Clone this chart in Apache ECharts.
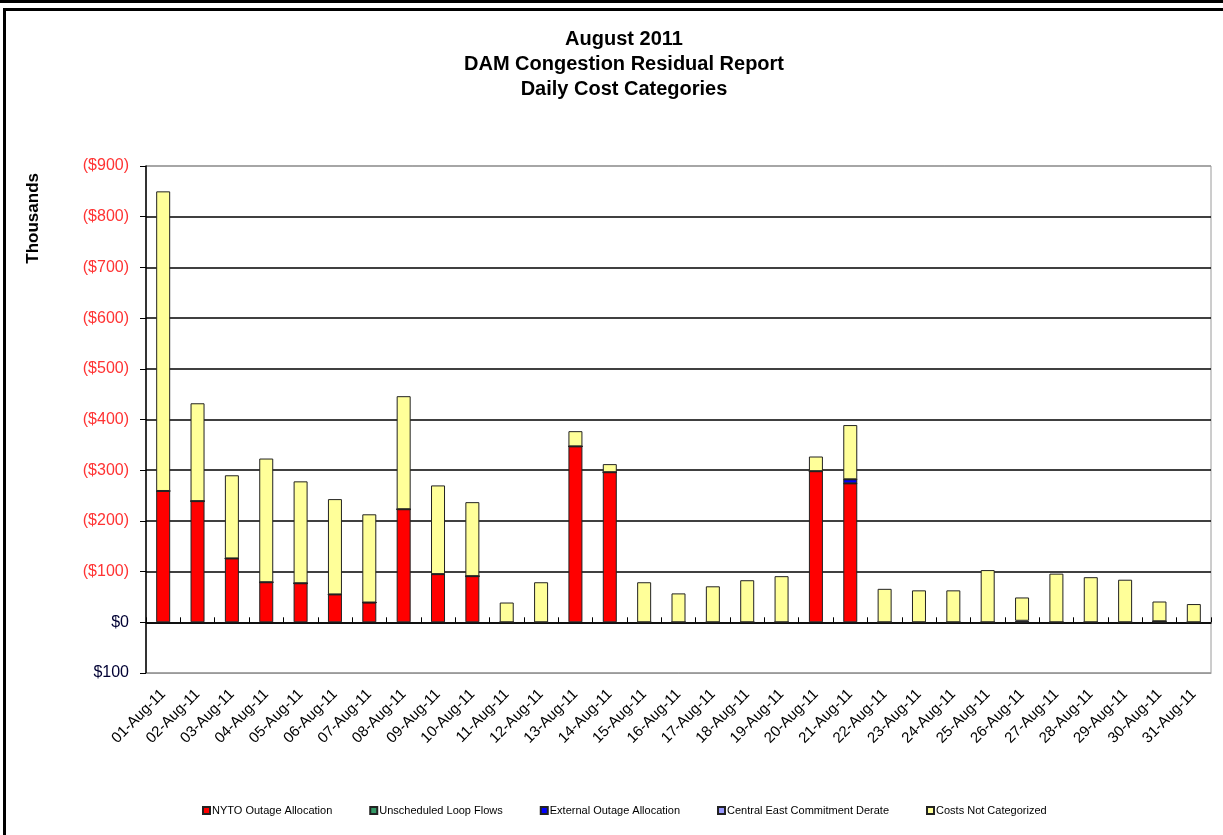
<!DOCTYPE html>
<html>
<head>
<meta charset="utf-8">
<title>DAM Congestion Residual Report</title>
<script src="https://cdn.jsdelivr.net/npm/echarts@6/dist/echarts.min.js"></script>
<style>
  html, body { margin: 0; padding: 0; background: #fff; }
  #topBar { position: absolute; left: 0; top: 0; width: 1223px; height: 3px; background: #000; }
  #frame { position: absolute; left: 3px; top: 8px; width: 1230px; height: 840px;
           border-left: 3px solid #000; border-top: 3px solid #000; }
  #chart { position: absolute; left: 0; top: 0; width: 1223px; height: 835px; }
</style>
</head>
<body>
<div id="topBar"></div>
<div id="frame"></div>
<div id="chart"></div>
<script>
// days of August 2011
const days = [
  '01-Aug-11', '02-Aug-11', '03-Aug-11', '04-Aug-11', '05-Aug-11', '06-Aug-11', '07-Aug-11',
  '08-Aug-11', '09-Aug-11', '10-Aug-11', '11-Aug-11', '12-Aug-11', '13-Aug-11', '14-Aug-11',
  '15-Aug-11', '16-Aug-11', '17-Aug-11', '18-Aug-11', '19-Aug-11', '20-Aug-11', '21-Aug-11',
  '22-Aug-11', '23-Aug-11', '24-Aug-11', '25-Aug-11', '26-Aug-11', '27-Aug-11', '28-Aug-11',
  '29-Aug-11', '30-Aug-11', '31-Aug-11'
];

// $ thousands, costs are negative (shown upward on an inverted axis)
const nytoOutage = [
  -259, -239, -126, -79, -77, -55, -39, -223, -95, -91, 0, 0, -347, -296,
  0, 0, 0, 0, 0, -298, -274, 0, 0, 0, 0, 0, 0, 0, 0, 0, 0
];
const loopFlows = [
  0, 0, 0, 0, 0, 0, 0, 0, 0, 0, 0, 0, 0, 0,
  0, 0, 0, 0, 0, 0, 0, 0, 0, 0, 0, 0, 0, 0, 0, -2, 0
];
const externalOutage = [
  0, 0, 0, 0, 0, 0, 0, 0, 0, 0, 0, 0, 0, 0,
  0, 0, 0, 0, 0, 0, -8, 0, 0, 0, 0, 0, 0, 0, 0, 0, 0
];
const centralEast = [
  0, 0, 0, 0, 0, 0, 0, 0, 0, 0, 0, 0, 0, 0,
  0, 0, 0, 0, 0, 0, 0, 0, 0, 0, 0, -3, 0, 0, 0, 0, 0
];
const notCategorized = [
  -591, -193, -164, -244, -201, -188, -174, -223, -175, -146, -39, -79, -30, -16,
  -79, -57, -71, -83, -91, -29, -107, -66, -63, -63, -103, -46, -96, -89, -84, -39, -36
];

const yTicks = [-900, 100]; // axis range, step 100

const seriesInfo = [
  { name: 'NYTO Outage Allocation', data: nytoOutage, color: '#ff0000' },
  { name: 'Unscheduled Loop Flows', data: loopFlows, color: '#339966' },
  { name: 'External Outage Allocation', data: externalOutage, color: '#0000ff' },
  { name: 'Central East Commitment Derate', data: centralEast, color: '#9999ff' },
  { name: 'Costs Not Categorized', data: notCategorized, color: '#ffff99' }
];

const FONT = 'Arial, "Liberation Sans", sans-serif';

const chartDom = document.getElementById('chart');
const myChart = echarts.init(chartDom);

// split line colours: outer ones grey (plot border), inner ones black
const splitColors = [];
for (let v = yTicks[0]; v <= yTicks[1]; v += 100) {
  splitColors.push(v === yTicks[0] || v === yTicks[1] ? '#9a9a9a' : '#000');
}

const option = {
  animation: false,
  backgroundColor: 'transparent',
  title: {
    text: 'August 2011\nDAM Congestion Residual Report\nDaily Cost Categories',
    left: 619,
    top: 22,
    textAlign: 'center',
    textStyle: {
      fontFamily: FONT,
      fontSize: 20,
      fontWeight: 'bold',
      color: '#000',
      lineHeight: 25
    }
  },
  graphic: [{
    type: 'text',
    left: 25,
    top: 173,
    rotation: Math.PI / 2,
    style: {
      text: 'Thousands',
      font: 'bold 17px ' + FONT,
      fill: '#000'
    }
  }],
  legend: {
    bottom: 14,
    left: 197,
    itemWidth: 7,
    itemHeight: 7,
    itemGap: 37,
    icon: 'rect',
    textStyle: { fontFamily: FONT, fontSize: 11, color: '#000', padding: [0, 0, 0, -3] },
    data: seriesInfo.map(s => s.name)
  },
  grid: {
    left: 146,
    right: 12,
    top: 166,
    bottom: 162,
    show: true,
    borderColor: '#9a9a9a',
    borderWidth: 1
  },
  xAxis: [
    {
      type: 'category',
      data: days,
      position: 'bottom',
      axisLine: { onZero: false, lineStyle: { color: '#9a9a9a' } },
      axisTick: { show: false },
      axisLabel: {
        rotate: 45,
        interval: 0,
        margin: 19,
        fontFamily: FONT,
        fontSize: 15,
        color: '#000'
      }
    },
    {
      type: 'category',
      data: days,
      position: 'top',
      axisLine: { onZero: true, lineStyle: { color: '#000', width: 1.5 } },
      axisTick: { show: true, interval: 0, length: 5, lineStyle: { color: '#000' } },
      axisLabel: { show: false }
    }
  ],
  yAxis: {
    type: 'value',
    min: yTicks[0],
    max: yTicks[1],
    interval: 100,
    inverse: true,
    axisLine: { show: true, lineStyle: { color: '#000', width: 1.5 } },
    axisTick: { show: true, length: 6, lineStyle: { color: '#000' } },
    axisLabel: {
      margin: 17,
      fontFamily: FONT,
      fontSize: 16,
      formatter: v => v < 0 ? '($' + (-v) + ')' : '$' + v,
      color: v => (Number(v) < 0 ? '#ff3333' : '#000033')
    },
    splitLine: { show: true, lineStyle: { color: splitColors, width: 1.5 } }
  },
  series: seriesInfo.map(s => ({
    name: s.name,
    type: 'bar',
    stack: 'cost',
    xAxisIndex: 0,
    barWidth: 14,
    data: s.data,
    itemStyle: {
      color: s.color,
      borderColor: '#222',
      borderWidth: 1
    }
  }))
};

myChart.setOption(option);
</script>
</body>
</html>
